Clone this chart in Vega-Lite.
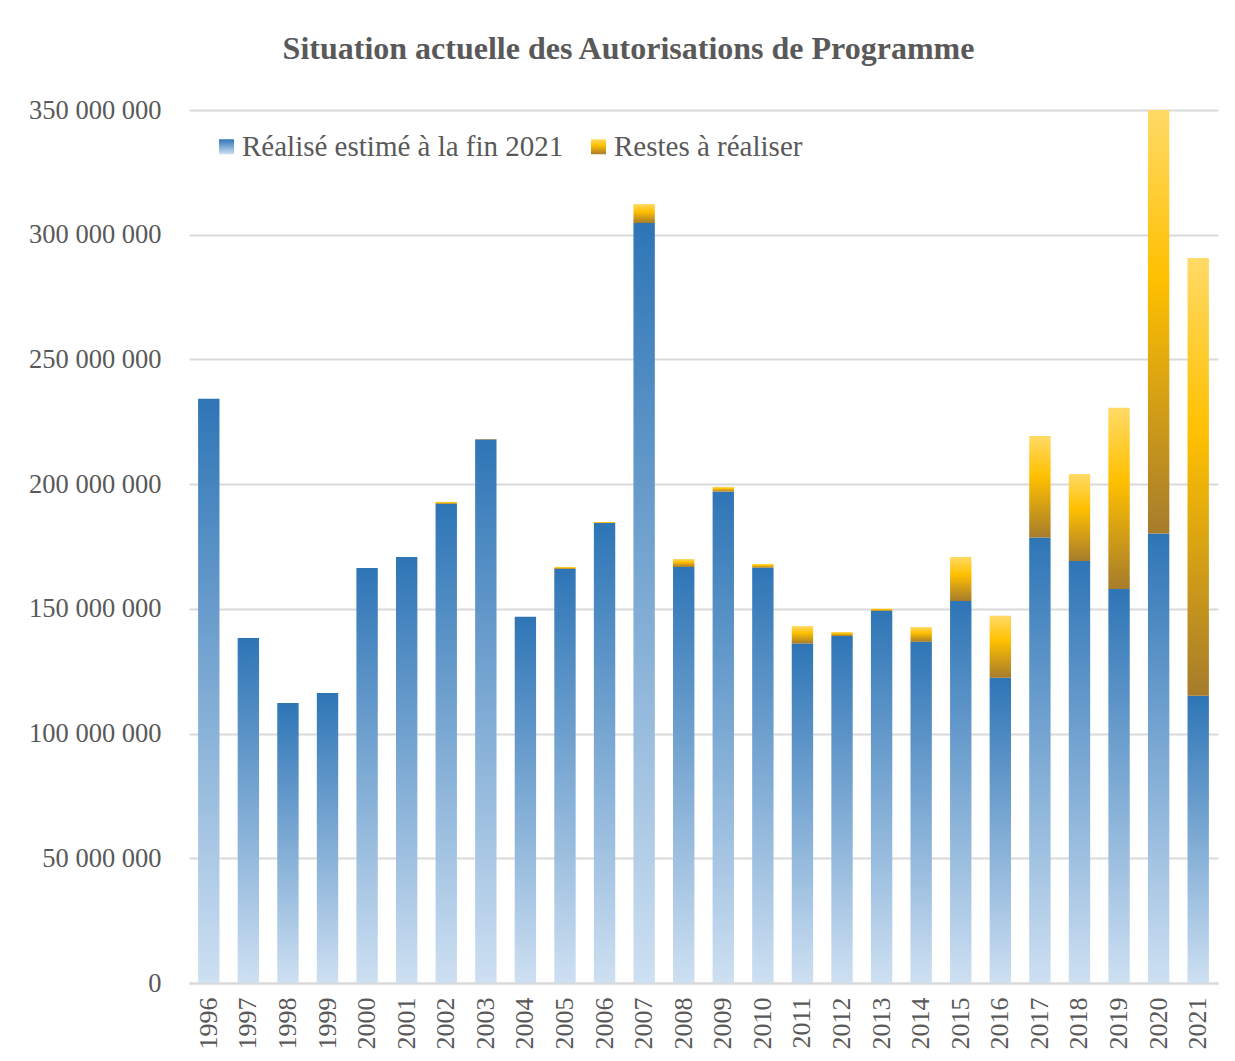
{
  "$schema": "https://vega.github.io/schema/vega-lite/v6.json",
  "autosize": {"type": "none"},
  "padding": {"left": 189, "top": 110, "right": 17, "bottom": 78},
  "width": 1029,
  "height": 873,
  "background": "white",
  "title": {
    "text": "Situation actuelle des Autorisations de Programme",
    "font": "Liberation Serif",
    "fontSize": 32,
    "fontWeight": "bold",
    "color": "#595959",
    "anchor": "middle",
    "dx": -75,
    "offset": 31
  },
  "data": {
    "values": [
      {"year": "1996", "series": "Réalisé estimé à la fin 2021", "value": 234200000},
      {"year": "1996", "series": "Restes à réaliser", "value": 0},
      {"year": "1997", "series": "Réalisé estimé à la fin 2021", "value": 138300000},
      {"year": "1997", "series": "Restes à réaliser", "value": 0},
      {"year": "1998", "series": "Réalisé estimé à la fin 2021", "value": 112300000},
      {"year": "1998", "series": "Restes à réaliser", "value": 0},
      {"year": "1999", "series": "Réalisé estimé à la fin 2021", "value": 116300000},
      {"year": "1999", "series": "Restes à réaliser", "value": 0},
      {"year": "2000", "series": "Réalisé estimé à la fin 2021", "value": 166400000},
      {"year": "2000", "series": "Restes à réaliser", "value": 0},
      {"year": "2001", "series": "Réalisé estimé à la fin 2021", "value": 170800000},
      {"year": "2001", "series": "Restes à réaliser", "value": 0},
      {"year": "2002", "series": "Réalisé estimé à la fin 2021", "value": 192100000},
      {"year": "2002", "series": "Restes à réaliser", "value": 800000},
      {"year": "2003", "series": "Réalisé estimé à la fin 2021", "value": 217900000},
      {"year": "2003", "series": "Restes à réaliser", "value": 200000},
      {"year": "2004", "series": "Réalisé estimé à la fin 2021", "value": 146800000},
      {"year": "2004", "series": "Restes à réaliser", "value": 0},
      {"year": "2005", "series": "Réalisé estimé à la fin 2021", "value": 166000000},
      {"year": "2005", "series": "Restes à réaliser", "value": 800000},
      {"year": "2006", "series": "Réalisé estimé à la fin 2021", "value": 184400000},
      {"year": "2006", "series": "Restes à réaliser", "value": 400000},
      {"year": "2007", "series": "Réalisé estimé à la fin 2021", "value": 304700000},
      {"year": "2007", "series": "Restes à réaliser", "value": 7600000},
      {"year": "2008", "series": "Réalisé estimé à la fin 2021", "value": 166800000},
      {"year": "2008", "series": "Restes à réaliser", "value": 3200000},
      {"year": "2009", "series": "Réalisé estimé à la fin 2021", "value": 197000000},
      {"year": "2009", "series": "Restes à réaliser", "value": 1900000},
      {"year": "2010", "series": "Réalisé estimé à la fin 2021", "value": 166500000},
      {"year": "2010", "series": "Restes à réaliser", "value": 1500000},
      {"year": "2011", "series": "Réalisé estimé à la fin 2021", "value": 136100000},
      {"year": "2011", "series": "Restes à réaliser", "value": 7000000},
      {"year": "2012", "series": "Réalisé estimé à la fin 2021", "value": 139100000},
      {"year": "2012", "series": "Restes à réaliser", "value": 1600000},
      {"year": "2013", "series": "Réalisé estimé à la fin 2021", "value": 149200000},
      {"year": "2013", "series": "Restes à réaliser", "value": 900000},
      {"year": "2014", "series": "Réalisé estimé à la fin 2021", "value": 136800000},
      {"year": "2014", "series": "Restes à réaliser", "value": 5900000},
      {"year": "2015", "series": "Réalisé estimé à la fin 2021", "value": 153200000},
      {"year": "2015", "series": "Restes à réaliser", "value": 17600000},
      {"year": "2016", "series": "Réalisé estimé à la fin 2021", "value": 122400000},
      {"year": "2016", "series": "Restes à réaliser", "value": 24800000},
      {"year": "2017", "series": "Réalisé estimé à la fin 2021", "value": 178600000},
      {"year": "2017", "series": "Restes à réaliser", "value": 40700000},
      {"year": "2018", "series": "Réalisé estimé à la fin 2021", "value": 169200000},
      {"year": "2018", "series": "Restes à réaliser", "value": 34900000},
      {"year": "2019", "series": "Réalisé estimé à la fin 2021", "value": 158000000},
      {"year": "2019", "series": "Restes à réaliser", "value": 72600000},
      {"year": "2020", "series": "Réalisé estimé à la fin 2021", "value": 180200000},
      {"year": "2020", "series": "Restes à réaliser", "value": 169800000},
      {"year": "2021", "series": "Réalisé estimé à la fin 2021", "value": 115200000},
      {"year": "2021", "series": "Restes à réaliser", "value": 175500000}
    ]
  },
  "transform": [
    {"stack": "value", "groupby": ["year"], "sort": [{"field": "series", "order": "descending"}], "as": ["v0", "v1"]}
  ],
  "encoding": {
    "x": {
      "field": "year",
      "type": "ordinal",
      "scale": {"paddingInner": 0.46, "paddingOuter": 0.23},
      "axis": {
        "title": null,
        "labelAngle": 270,
        "labelFont": "Liberation Serif",
        "labelFontSize": 26,
        "labelColor": "#595959",
        "labelPadding": 14,
        "ticks": false,
        "domainColor": "#D9D9D9",
        "domainWidth": 2
      }
    },
    "y": {
      "field": "v1",
      "type": "quantitative",
      "scale": {"domain": [0, 350000000], "nice": false},
      "axis": {
        "title": null,
        "values": [0, 50000000, 100000000, 150000000, 200000000, 250000000, 300000000, 350000000],
        "labelExpr": "replace(format(datum.value, ',d'), /,/g, ' ')",
        "labelFont": "Liberation Serif",
        "labelFontSize": 26.5,
        "labelColor": "#595959",
        "labelPadding": 28,
        "ticks": false,
        "domain": false,
        "grid": true,
        "gridColor": "#D9D9D9",
        "gridWidth": 2
      }
    },
    "y2": {"field": "v0"}
  },
  "layer": [
    {
      "transform": [{"filter": "datum.series === 'Réalisé estimé à la fin 2021'"}],
      "mark": {
        "type": "bar",
        "strokeWidth": 0,
        "fill": {"gradient": "linear", "x1": 0, "y1": 0, "x2": 0, "y2": 1, "stops": [{"offset": 0, "color": "#2E75B6"}, {"offset": 1, "color": "#CEE0F2"}]}
      }
    },
    {
      "transform": [{"filter": "datum.series === 'Restes à réaliser' && datum.value > 0"}],
      "mark": {
        "type": "bar",
        "strokeWidth": 0,
        "fill": {"gradient": "linear", "x1": 0, "y1": 0, "x2": 0, "y2": 1, "stops": [{"offset": 0, "color": "#FFDA66"}, {"offset": 0.4, "color": "#FFC000"}, {"offset": 1, "color": "#A67C2C"}]}
      }
    },
    {
      "transform": [{"filter": "false"}],
      "mark": {"type": "bar", "strokeWidth": 0},
      "encoding": {
        "stroke": {
          "field": "series",
          "type": "nominal",
          "scale": {
            "domain": ["Réalisé estimé à la fin 2021", "Restes à réaliser"],
            "range": ["#2E75B6", "#FFC000"]
          },
          "legend": {
            "title": null,
            "orient": "none",
            "direction": "horizontal",
            "legendX": 23,
            "legendY": 22,
            "symbolType": "square",
            "symbolSize": 225,
            "symbolStrokeWidth": 0,
            "symbolOpacity": 1,
            "labelFont": "Liberation Serif",
            "labelFontSize": 29,
            "labelColor": "#595959",
            "labelLimit": 500,
            "columnPadding": 20,
            "labelOffset": 1,
            "encoding": {
              "symbols": {
                "fill": {
                  "condition": {
                    "test": "datum.value === 'Restes à réaliser'",
                    "value": {"gradient": "linear", "x1": 0, "y1": 0, "x2": 0, "y2": 1, "stops": [{"offset": 0, "color": "#FFDA66"}, {"offset": 0.4, "color": "#FFC000"}, {"offset": 1, "color": "#A67C2C"}]}
                  },
                  "value": {"gradient": "linear", "x1": 0, "y1": 0, "x2": 0, "y2": 1, "stops": [{"offset": 0, "color": "#2E75B6"}, {"offset": 1, "color": "#CEE0F2"}]}
                }
              }
            }
          }
        }
      }
    }
  ],
  "config": {
    "view": {"stroke": null}
  }
}
